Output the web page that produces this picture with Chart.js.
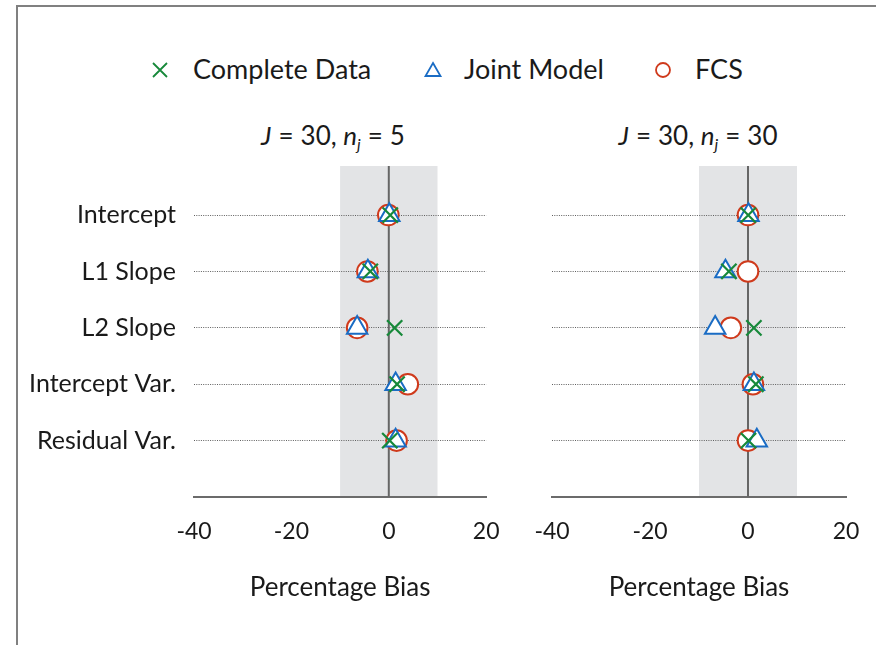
<!DOCTYPE html>
<html>
<head>
<meta charset="utf-8">
<script src="https://cdn.jsdelivr.net/npm/chart.js@4.4.0/dist/chart.umd.min.js"></script>
<style>
  html, body { margin: 0; padding: 0; background: #fff; }
  body { width: 876px; height: 645px; position: relative; overflow: hidden; font-family: Lato, "Open Sans", sans-serif; color: #1a1a1a; }
  #frame { position: absolute; left: 16px; top: 5px; width: 900px; height: 700px; border-left: 2px solid #808080; border-top: 2px solid #808080; }
  canvas { position: absolute; top: 0; }
  .lg { position: absolute; top: 53px; height: 32px; line-height: 32px; font-size: 27px; white-space: nowrap; }
  .lg svg { position: absolute; top: 7px; }
  .ttl { position: absolute; top: 118px; width: 300px; text-align: center; font-size: 26px; line-height: 34px; white-space: nowrap; }
  .ttl i { font-style: italic; }
  .ttl .eq { margin: 0 7px; }
  .ttl sub { font-size: 16px; vertical-align: -5px; line-height: 0; }
</style>
</head>
<body>
<div id="frame"></div>

<div class="lg" style="left:150px;"><svg width="20" height="20" viewBox="0 0 20 20"><path d="M3 3 L17 17 M17 3 L3 17" stroke="#17893a" stroke-width="1.8" fill="none"/></svg><span style="position:absolute;left:43px;">Complete Data</span></div>
<div class="lg" style="left:423px;"><svg width="20" height="20" viewBox="0 0 20 20"><path d="M10 3 L17.5 16 L2.5 16 Z" stroke="#1a6cc4" stroke-width="1.8" fill="none"/></svg><span style="position:absolute;left:41px;">Joint Model</span></div>
<div class="lg" style="left:653px;"><svg width="20" height="20" viewBox="0 0 20 20"><circle cx="10" cy="10" r="7" stroke="#cf3a1c" stroke-width="1.8" fill="none"/></svg><span style="position:absolute;left:42px;">FCS</span></div>

<div class="ttl" style="left:183px;"><i>J</i><span class="eq">=</span>30,&nbsp;<i>n<sub>j</sub></i><span class="eq">=</span>5</div>
<div class="ttl" style="left:548px;"><i>J</i><span class="eq">=</span>30,&nbsp;<i>n<sub>j</sub></i><span class="eq">=</span>30</div>

<canvas id="c1" width="500" height="645" style="left:0;width:500px;height:645px;"></canvas>
<canvas id="c2" width="376" height="645" style="left:500px;width:376px;height:645px;"></canvas>

<script>
// ---- data ----
const rowLabels = ["Intercept", "L1 Slope", "L2 Slope", "Intercept Var.", "Residual Var."];
const seriesNames = ["Complete Data", "Joint Model", "FCS"];
const xTicks = [-40, -20, 0, 20];
// Panel 1: J = 30, n_j = 5
const p1Complete = [0.3, -3.8, 1.2, 1.7, 0.2];
const p1Joint    = [0.1, -4.3, -6.5, 1.4, 1.4];
const p1FCS      = [-0.1, -4.4, -6.5, 3.9, 1.6];
// Panel 2: J = 30, n_j = 30
const p2Complete = [0.05, -3.9, 1.2, 1.6, 0.1];
const p2Joint    = [0.1, -4.6, -6.7, 1.2, 1.8];
const p2FCS      = [0.0, 0.0, -3.5, 1.0, 0.0];
const bandRange = [-10, 10];

const GREEN = "#17893a", BLUE = "#1a6cc4", RED = "#cf3a1c";
const FONT = "Lato, 'Open Sans', sans-serif";

function pts(arr) { return arr.map((v, i) => ({ x: v, y: rowLabels.length - i })); }

const bandPlugin = {
  id: "band",
  beforeDraw(chart) {
    const { ctx, chartArea: a, scales: { x } } = chart;
    const x0 = x.getPixelForValue(bandRange[0]), x1 = x.getPixelForValue(bandRange[1]);
    ctx.save();
    ctx.fillStyle = "#e3e4e6";
    ctx.fillRect(x0, a.top, x1 - x0, a.bottom - a.top);
    ctx.restore();
  },
  beforeDatasetsDraw(chart) {
    const { ctx, chartArea: a, scales: { x } } = chart;
    const z = x.getPixelForValue(0);
    ctx.save();
    ctx.strokeStyle = "#666";
    ctx.lineWidth = 2;
    ctx.beginPath();
    ctx.moveTo(z, a.top);
    ctx.lineTo(z, a.bottom);
    ctx.stroke();
    ctx.restore();
  }
};

function makeChart(id, data3, showLabels, yWidth, padRight) {
  const [comp, joint, fcs] = data3;
  return new Chart(document.getElementById(id), {
    type: "scatter",
    data: {
      datasets: [
        { label: seriesNames[0], data: pts(comp), pointStyle: "crossRot", pointRadius: 10.8, borderColor: GREEN, backgroundColor: GREEN, pointBorderWidth: 2.2 },
        { label: seriesNames[1], data: pts(joint), pointStyle: "triangle", pointRadius: 11.8, borderColor: BLUE, backgroundColor: "#fff", pointBorderWidth: 2 },
        { label: seriesNames[2], data: pts(fcs), pointStyle: "circle", pointRadius: 10.3, borderColor: RED, backgroundColor: "#fff", pointBorderWidth: 2 }
      ]
    },
    options: {
      responsive: false,
      animation: false,
      events: [],
      layout: { padding: { top: 166, right: padRight, bottom: 0, left: 0 } },
      plugins: { legend: { display: false }, tooltip: { enabled: false }, title: { display: false } },
      scales: {
        x: {
          type: "linear", min: -40, max: 20,
          afterBuildTicks(s) { s.ticks = xTicks.map(v => ({ value: v })); },
          afterFit(s) { s.height = 148; },
          grid: { display: false, drawTicks: true, tickLength: 21 },
          border: { display: true, color: "#6b6b6b", width: 2 },
          ticks: { color: "#1a1a1a", font: { family: FONT, size: 23 }, padding: 0, maxRotation: 0 },
          title: { display: true, text: "Percentage Bias", color: "#1a1a1a", font: { family: FONT, size: 26 }, padding: { top: 0, bottom: 42 } }
        },
        y: {
          type: "linear", min: 0, max: 5.87,
          afterBuildTicks(s) { s.ticks = [1, 2, 3, 4, 5].map(v => ({ value: v })); },
          afterFit(s) { s.width = yWidth; },
          grid: { display: true, drawTicks: false, color: "#5f5f5f", lineWidth: 1 },
          border: { display: false, dash: [1, 1.3] },
          ticks: {
            display: showLabels,
            color: "#1a1a1a", font: { family: FONT, size: 25 }, padding: 18,
            callback: v => rowLabels[rowLabels.length - v]
          }
        }
      }
    },
    plugins: [bandPlugin]
  });
}

makeChart("c1", [p1Complete, p1Joint, p1FCS], true, 194, 12);
makeChart("c2", [p2Complete, p2Joint, p2FCS], false, 52, 30);
</script>
</body>
</html>
